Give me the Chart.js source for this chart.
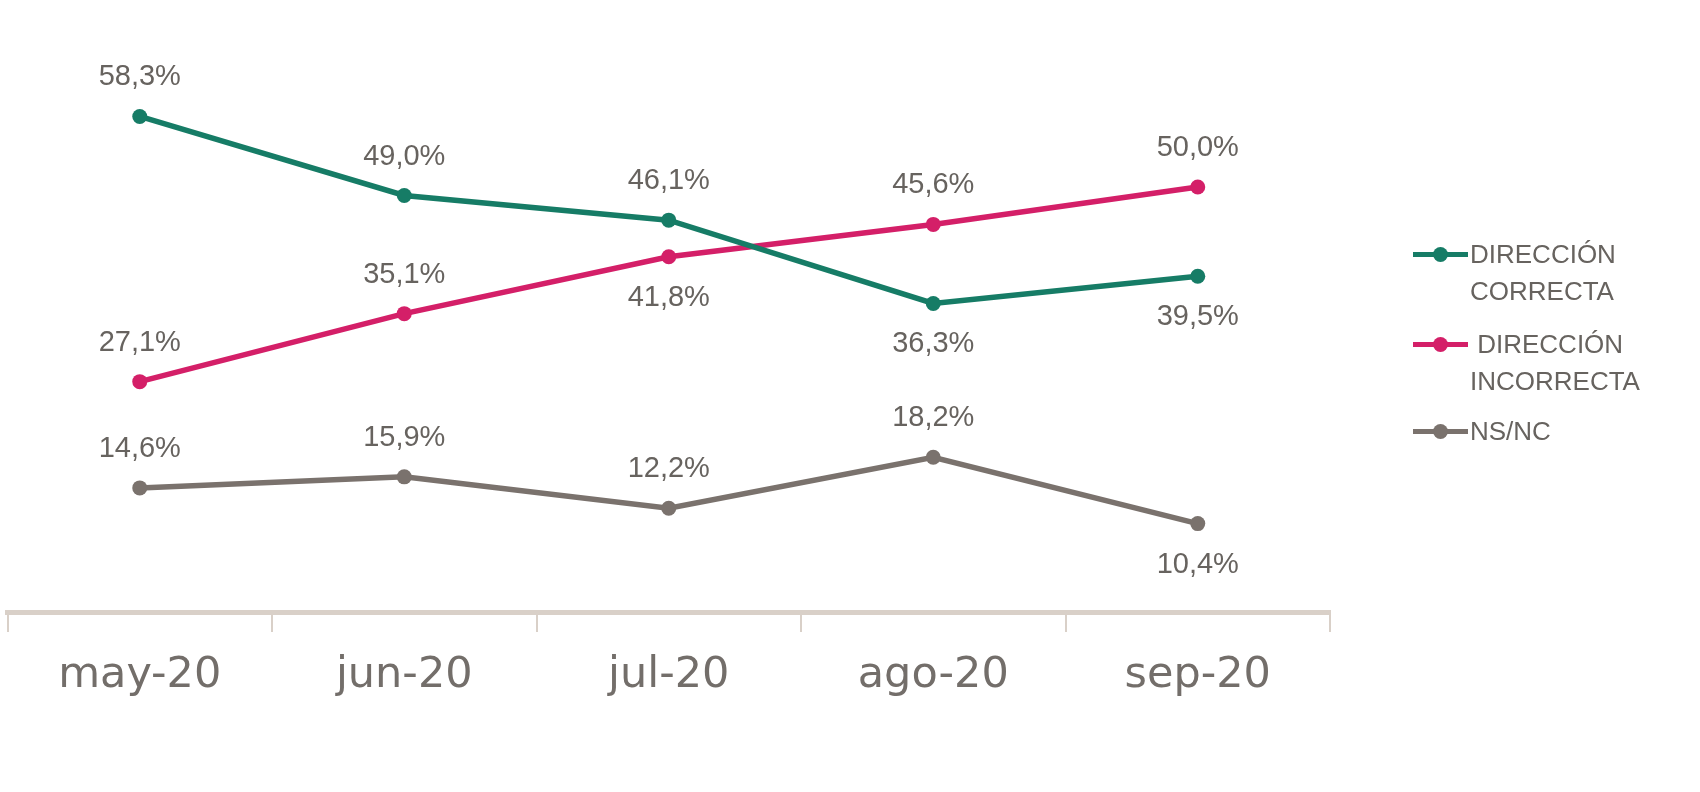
<!DOCTYPE html>
<html>
<head>
<meta charset="utf-8">
<script src="https://cdn.jsdelivr.net/npm/chart.js@4.4.1/dist/chart.umd.min.js"></script>
<style>
  html, body { margin: 0; padding: 0; background: #ffffff; }
  #wrap { position: relative; width: 1700px; height: 792px; }
  #c { position: absolute; left: 0; top: 0; }
  .leg { position: absolute; left: 1413px; font-family: "Liberation Sans", "DejaVu Sans", sans-serif; font-size: 26px; line-height: 37px; color: #67635f; white-space: pre; }
  .leg .mk { position: absolute; left: 0; top: 16px; width: 55px; height: 5px; }
  .leg .dot { position: absolute; left: 20px; top: 11px; width: 15px; height: 15px; border-radius: 50%; }
  .leg .txt { position: absolute; left: 57px; top: 0; }
</style>
</head>
<body>
<div id="wrap">
  <canvas id="c" width="1700" height="792"></canvas>
</div>
<script>
// ---- data ----
const categories = ['may-20', 'jun-20', 'jul-20', 'ago-20', 'sep-20'];
const correcta   = [58.3, 49.0, 46.1, 36.3, 39.5];
const incorrecta = [27.1, 35.1, 41.8, 45.6, 50.0];
const nsnc       = [14.6, 15.9, 12.2, 18.2, 10.4];
const seriesNames = [['DIRECCIÓN', 'CORRECTA'], [' DIRECCIÓN', 'INCORRECTA'], ['NS/NC']];
// label placement (above / below the point)
const placeCorrecta   = ['top', 'top', 'top', 'bottom', 'bottom'];
const placeIncorrecta = ['top', 'top', 'bottom', 'top', 'top'];
const placeNsnc       = ['top', 'top', 'top', 'top', 'bottom'];

const colors = ['#167c66', '#d41f68', '#7a726d'];
const placements = [placeCorrecta, placeIncorrecta, placeNsnc];
const values = [correcta, incorrecta, nsnc];

const labelPlugin = {
  id: 'valueLabels',
  afterDatasetsDraw(chart) {
    const ctx = chart.ctx;
    ctx.save();
    ctx.font = '29px "Liberation Sans", "DejaVu Sans", sans-serif';
    ctx.fillStyle = '#67635f';
    ctx.textAlign = 'center';
    ctx.textBaseline = 'middle';
    chart.data.datasets.forEach((ds, di) => {
      const meta = chart.getDatasetMeta(di);
      meta.data.forEach((pt, i) => {
        const v = ds.data[i];
        const txt = v.toFixed(1).replace('.', ',') + '%';
        const off = placements[di][i] === 'top' ? -39 : 41;
        ctx.fillText(txt, pt.x, pt.y + off);
      });
    });
    ctx.restore();
  }
};

const datasets = values.map((arr, i) => ({
  label: seriesNames[i].join(' ').trim(),
  data: arr,
  borderColor: colors[i],
  backgroundColor: colors[i],
  pointBackgroundColor: colors[i],
  pointBorderColor: colors[i],
  borderWidth: 5.5,
  pointRadius: 7.5,
  pointBorderWidth: 0,
  tension: 0,
  clip: false
}));

new Chart(document.getElementById('c'), {
  type: 'line',
  data: { labels: categories, datasets: datasets },
  options: {
    responsive: false,
    animation: false,
    devicePixelRatio: 1,
    layout: { padding: { top: 102, left: 4, right: 370, bottom: 0 } },
    plugins: { legend: { display: false }, tooltip: { enabled: false } },
    scales: {
      y: { display: false, min: 0, max: 60 },
      x: {
        offset: true,
        afterFit: (scale) => { scale.height = 180; },
        grid: { offset: true, drawOnChartArea: false, drawTicks: true, tickLength: 20, color: '#d9d0c8', lineWidth: 2 },
        border: { display: true, color: '#d9d0c8', width: 5 },
        ticks: {
          color: '#736e6a',
          padding: 18,
          font: { family: '"DejaVu Sans", sans-serif', size: 43 }
        }
      }
    }
  },
  plugins: [labelPlugin]
});

// HTML legend
const wrap = document.getElementById('wrap');
const legTops = [236, 326, 413];
seriesNames.forEach((lines, i) => {
  const d = document.createElement('div');
  d.className = 'leg';
  d.style.top = legTops[i] + 'px';
  const mk = document.createElement('div');
  mk.className = 'mk';
  mk.style.background = colors[i];
  const dot = document.createElement('div');
  dot.className = 'dot';
  dot.style.background = colors[i];
  const t = document.createElement('div');
  t.className = 'txt';
  t.textContent = lines.join('\n');
  d.appendChild(mk); d.appendChild(dot); d.appendChild(t);
  wrap.appendChild(d);
});
</script>
</body>
</html>
